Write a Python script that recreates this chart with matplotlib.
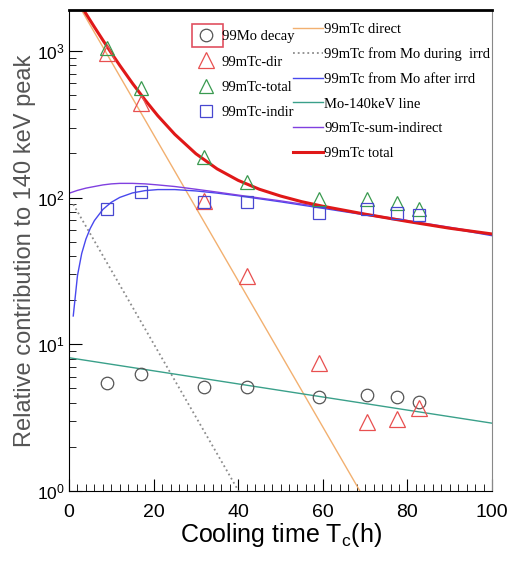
import numpy as np
import matplotlib
matplotlib.use('Agg')
import matplotlib.pyplot as plt
from matplotlib.patches import Rectangle
from matplotlib.ticker import MultipleLocator, LogLocator

plt.rcParams['font.family'] = ['Liberation Sans', 'DejaVu Sans']

# measured points
t_meas = [9, 17, 32, 42, 59, 70.5, 77.5, 82.7]
mo_decay = [5.45, 6.3, 5.1, 5.1, 4.4, 4.5, 4.4, 4.05]
tc_dir = [970, 440, 95, 29, 7.5, 2.95, 3.1, 3.7]
tc_total = [1050, 560, 190, 128, 98, 98, 92, 84]
tc_indir = [84, 109, 93, 93, 78.5, 84, 78.5, 76]

# curves
t_direct = [0, 72]
direct = [2660, 0.69]
t_during = [1, 41]
during = [90, 0.9]
t_moline = [0, 100]
moline = [8.1, 2.9]
t_after = [1, 2, 3, 4, 5, 6, 8, 10, 12, 15, 18, 21, 25, 30, 35, 40, 50, 60, 70, 80, 90, 100]
after = [15.6, 29.4, 41.6, 52.2, 61.5, 69.7, 83.0, 92.9, 100.3, 107.6, 111.6, 113.4,
         113.4, 111.0, 107.3, 102.9, 93.6, 84.5, 76.2, 68.6, 61.8, 55.0]
t_sum = [0, 2, 4, 6, 8, 10, 12, 15, 18, 21, 25, 30, 35, 40, 50, 60, 70, 80, 90, 100]
sum_ind = [107, 112, 116, 119, 122, 124, 125, 125, 124, 122, 119, 114, 109, 104,
           95, 86, 77.5, 69.8, 62.8, 56.2]
t_tot = [3, 4, 6, 8, 10, 12, 15, 18, 21, 25, 30, 35, 40, 45, 50, 55, 60, 70, 80, 90, 100]
total = [2000, 1794, 1454, 1184, 968, 796, 601, 462, 361, 270, 199, 157, 131, 114,
         102.5, 93.8, 87.3, 77.1, 68.8, 61.8, 56.5]

fig = plt.figure(figsize=(5.12, 5.64), dpi=100)
ax = fig.add_axes([0.1348, 0.1294, 0.8262, 0.8529])

l1, = ax.plot(t_direct, direct, color='#f2b070', lw=1.0, label='99mTc direct')
l2, = ax.plot(t_during, during, color='#8c8c8c', lw=1.3, ls=':', label='99mTc from Mo during  irrd')
l3, = ax.plot(t_after, after, color='#4848ee', lw=1.0, label='99mTc from Mo after irrd')
l4, = ax.plot(t_moline, moline, color='#3aa08a', lw=1.0, label='Mo-140keV line')
l5, = ax.plot(t_sum, sum_ind, color='#8040e0', lw=1.0, label='99mTc-sum-indirect')
l6, = ax.plot(t_tot, total, color='#e01818', lw=2.2, label='99mTc total')

p1, = ax.plot(t_meas, mo_decay, 'o', ms=9, mfc='none', mec='#555555', mew=0.9, label='99Mo decay')
p2, = ax.plot(t_meas, tc_dir, '^', ms=11, mfc='none', mec='#e85050', mew=0.9, label='99mTc-dir')
p3, = ax.plot(t_meas, tc_total, '^', ms=10, mfc='none', mec='#3a9a50', mew=0.9, label='99mTc-total')
p4, = ax.plot(t_meas, tc_indir, 's', ms=8, mfc='none', mec='#4848d0', mew=0.9, label='99mTc-indir')

ax.set_yscale('log')
ax.set_xlim(0, 100)
ax.set_ylim(1, 1900)
ax.xaxis.set_major_locator(MultipleLocator(20))
ax.xaxis.set_minor_locator(MultipleLocator(2))
ax.yaxis.set_minor_locator(LogLocator(subs=np.arange(2, 10)))
ax.tick_params(which='both', direction='in', top=False, right=False)
ax.tick_params(axis='x', pad=9, labelsize=14)
ax.tick_params(axis='y', pad=3, labelsize=12.5)
ax.tick_params(which='major', length=9)
ax.tick_params(which='minor', length=5)
ax.spines['top'].set_linewidth(2)
ax.spines['right'].set_color('#888888')

ax.set_xlabel('Cooling time T$_\\mathregular{c}$(h)', fontsize=18, labelpad=0)
ax.set_ylabel('Relative contribution to 140 keV peak', fontsize=17, color='#555555')
ax.yaxis.set_label_coords(-0.078, 0.5)

serif = {'family': 'Liberation Serif', 'size': 10.5}
leg1 = ax.legend(handles=[p1, p2, p3, p4], loc='upper left', bbox_to_anchor=(0.303, 0.958),
                 frameon=False, prop=serif, handlelength=1.2, handletextpad=0.5,
                 labelspacing=0.82, borderpad=0, borderaxespad=0, numpoints=1)
ax.add_artist(leg1)
ax.legend(handles=[l1, l2, l3, l4, l5, l6], loc='upper left', bbox_to_anchor=(0.5296, 0.973),
          frameon=False, prop=serif, handlelength=2.05, handletextpad=0.1,
          labelspacing=0.78, borderpad=0, borderaxespad=0)

ax.add_patch(Rectangle((0.291, 0.923), 0.073, 0.048, transform=ax.transAxes,
                       fill=False, ec='#e05060', lw=1.2, clip_on=False))

fig.savefig('out.png', dpi=100)
